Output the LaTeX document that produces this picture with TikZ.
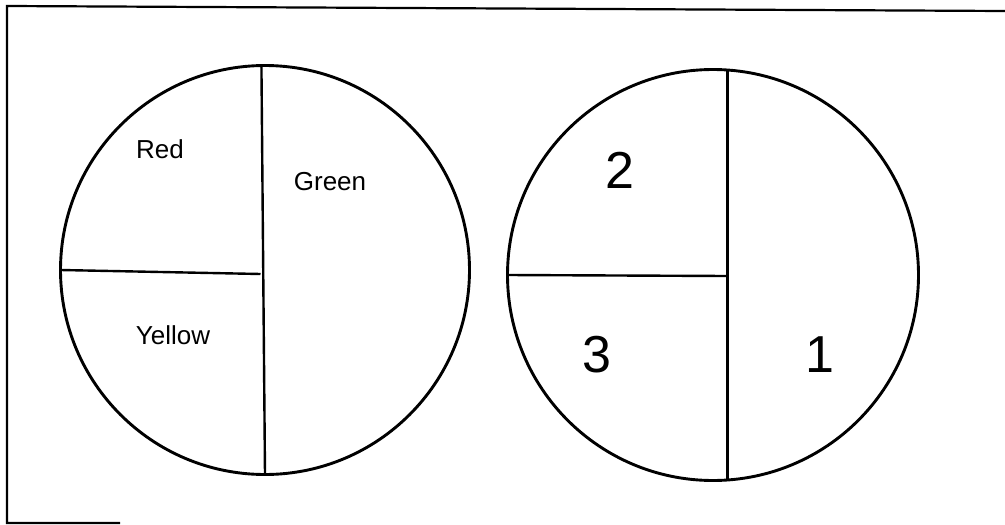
\documentclass[tikz,border=0pt]{standalone}
\usepackage{fontspec}
\setmainfont{Liberation Sans}

\begin{document}
\begin{tikzpicture}[x=1pt, y=-1pt,
  pie/.style={draw, circle, line width=2.9pt, inner sep=0pt, outer sep=0pt},
  cut/.style={line width=2.4pt},
  word/.style={font=\fontsize{26}{30}\selectfont, inner sep=0pt},
  num/.style={font=\fontsize{52}{60}\selectfont, inner sep=0pt},
  frame/.style={line width=2.2pt}
]
\useasboundingbox (0,0) rectangle (1005,525);
% frame (partly lost in the scan)
\draw[frame] (1005,11) -- (7,6) -- (7,523) -- (120,523);
% colour circle
\node[pie, minimum size=409pt] (lp) at (265,270) {};
\coordinate (lj) at (260.5,274);
\draw[cut] (lp.91.4) -- (lp.-90.6);
\draw[cut] (lp.180) -- (lj);
\node[word] (red) at (160,149) {Red};
\node[word] (green) at (330,182) {Green};
\node[word] (yellow) at (173,335) {Yellow};
% number circle
\node[pie, minimum size=411pt] (rp) at (713,275) {};
\coordinate (rj) at (726.5,276);
\draw[cut] (rp.86) -- (rp.-86.65);
\draw[cut] (rp.180) -- (rj);
\node[num] (two) at (620,170) {2};
\node[num] (three) at (597,355) {3};
\node[num] (one) at (820,355) {1};
\end{tikzpicture}
\end{document}
